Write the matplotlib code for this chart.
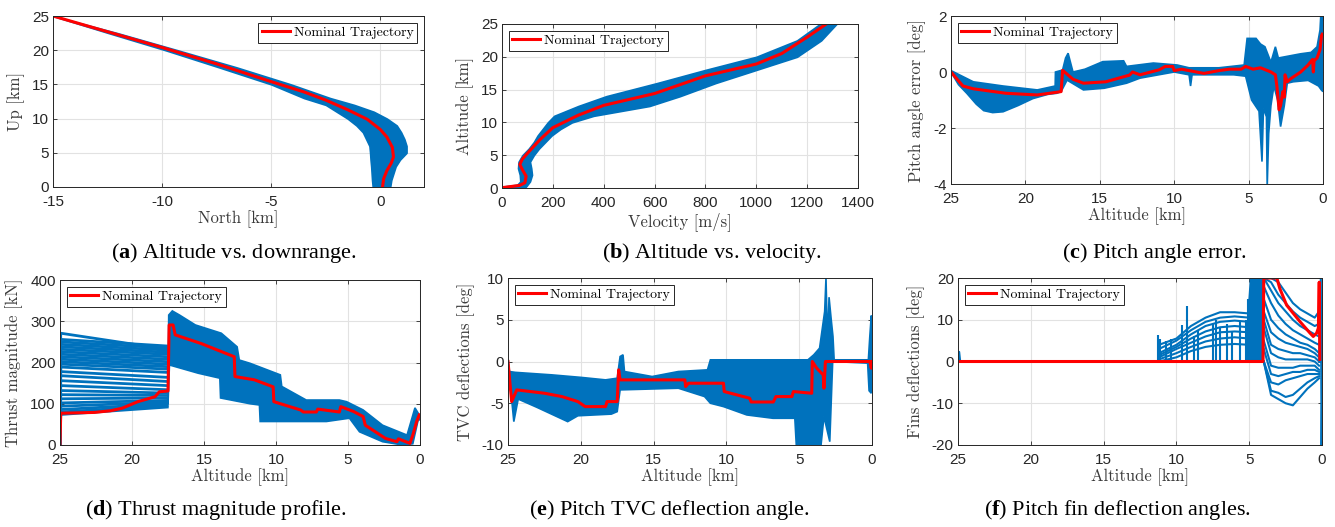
"""Monte Carlo landing dispersion panels (a)-(f), redrawn from the figure."""

import matplotlib
matplotlib.use("Agg")
import matplotlib.pyplot as plt
import numpy as np

W, H = 1335, 527
BLUE = "#0072BD"
RED = "#FF0000"
INK = "#262626"

# (a) altitude vs downrange
a_nom_north = [-15.0, -12.5, -10.0, -7.5, -5.0, -3.5, -2.5, -1.5, -0.6, 0.0, 0.3, 0.55, 0.6, 0.5, 0.3, 0.15, 0.1]
a_nom_up = [25.0, 22.7, 20.4, 18.0, 15.4, 13.9, 12.7, 11.3, 9.9, 8.4, 7.3, 5.8, 4.4, 3.5, 2.4, 1.2, 0.0]
a_band_up = [25, 22.5, 20, 17.5, 15, 13, 12, 11, 10, 9, 8, 7, 6, 5, 4, 3, 2, 1, 0]
a_band_left = [-15, -12.45, -9.85, -7.4, -5.0, -3.5, -2.5, -2.0, -1.5, -1.1, -0.8, -0.65, -0.5, -0.47, -0.45,
               -0.42, -0.4, -0.38, -0.35]
a_band_right = [-15, -12.05, -9.3, -6.6, -4.1, -2.3, -1.2, -0.3, 0.3, 0.75, 0.95, 1.1, 1.2, 1.2, 0.9, 0.7, 0.6,
                0.5, 0.45]

# (b) altitude vs velocity
b_nom_vel = [10, 70, 90, 95, 80, 70, 80, 100, 150, 200, 300, 400, 600, 800, 1000, 1100, 1200, 1275]
b_nom_alt = [0.1, 0.4, 0.8, 1.8, 2.8, 3.6, 4.4, 5.3, 7.4, 9.2, 11.1, 12.6, 14.4, 17.1, 18.9, 20.5, 23.0, 25.0]
b_band_alt = [25, 22.5, 20, 18, 16, 14, 12.5, 11, 10, 9, 8, 7, 6, 5, 4, 3, 2, 1, 0.5, 0.25, 0.05]
b_band_left = [1250, 1160, 1000, 800, 610, 410, 300, 205, 180, 160, 140, 125, 105, 80, 65, 63, 70, 72, 60, 10, 10]
b_band_right = [1315, 1255, 1160, 1000, 840, 700, 580, 360, 275, 230, 195, 170, 145, 125, 110, 115, 118, 110,
                100, 95, 90]

# (c) pitch angle error
c_nom_alt = [25.0, 24.2, 23.5, 21.3, 19.2, 17.6, 17.5, 16.8, 16.1, 14.6, 13.0, 12.8, 12.3, 11.0, 10.6, 10.1,
             10.0, 9.5, 8.0, 7.0, 6.3, 5.5, 5.2, 4.7, 4.2, 3.5, 3.2, 3.1, 2.95, 2.85, 2.7, 2.6, 2.55, 2.4, 2.2,
             1.5, 1.0, 0.7, 0.65, 0.6, 0.4, 0.2, 0.1, 0.05]
c_nom_err = [0.0, -0.5, -0.6, -0.76, -0.82, -0.7, 0.06, -0.26, -0.4, -0.35, -0.11, 0.0, -0.1, 0.08, 0.2, 0.2,
             0.05, 0.1, -0.05, 0.05, 0.1, 0.1, 0.2, 0.1, 0.15, 0.0, -0.1, -0.5, -1.35, -1.2, -0.7, -0.9, -0.1,
             -0.35, -0.25, 0.0, 0.25, 0.45, 0.0, 0.4, 0.5, 0.8, 1.3, 1.35]
c_hi_alt = [25.0, 23.5, 21.5, 19.2, 18.0, 17.98, 17.5, 17.3, 17.13, 16.9, 16.8, 16.0, 14.8, 13.4, 13.2, 11.4,
            9.8, 9.0, 7.0, 5.3, 5.1, 4.5, 4.2, 3.9, 3.5, 3.2, 3.0, 2.5, 1.5, 0.8, 0.4, 0.2, 0.15, 0.05, 0.0]
c_hi_err = [0.05, -0.35, -0.5, -0.64, -0.5, 0.0, 0.07, 0.5, 0.67, 0.2, 0.0, 0.1, 0.37, 0.4, 0.2, 0.32, 0.25,
            0.15, 0.15, 0.25, 1.2, 1.2, 1.0, 0.9, 0.35, 0.9, 0.5, 0.55, 0.65, 0.7, 0.9, 1.5, 2.0, 2.0, 1.5]
c_lo_alt = [25.0, 24.5, 23.94, 23.3, 22.8, 22.2, 21.5, 20.5, 19.5, 18.5, 17.9, 17.6, 17.2, 16.1, 14.7, 13.2,
            12.3, 10.0, 9.0, 8.9, 8.8, 6.0, 5.2, 4.8, 4.3, 4.1, 4.0, 3.8, 3.75, 3.65, 3.5, 3.3, 3.05, 2.85, 2.6,
            2.4, 2.0, 1.0, 0.3, 0.1, 0.0]
c_lo_err = [0.0, -0.45, -0.76, -1.15, -1.38, -1.45, -1.42, -1.2, -0.95, -0.8, -0.76, -0.7, -0.29, -0.64, -0.58,
            -0.4, -0.22, 0.0, -0.1, -0.5, -0.1, -0.1, -0.15, -1.0, -1.4, -3.2, -1.3, -1.6, -4.1, -2.2, -1.2,
            -0.5, -1.0, -1.95, -1.2, -0.4, -0.35, -0.3, -0.5, -0.65, -0.7]

# (d) thrust magnitude
d_nom_alt = [25.0, 24.95, 22.6, 21.5, 20.7, 19.6, 18.4, 18.1, 17.5, 17.42, 17.15, 17.0, 15.2, 12.9, 12.85, 11.5,
             10.2, 10.15, 8.3, 8.1, 7.2, 7.1, 5.6, 5.5, 4.6, 3.95, 3.8, 3.1, 2.4, 1.6, 1.5, 0.7, 0.5, 0.23, 0.05]
d_nom_kn = [0, 77, 79, 83, 89, 105, 117, 129, 131, 291, 291, 267, 246, 214, 166, 158, 141, 105, 85, 80, 80, 87,
            80, 93, 81, 69, 48, 32, 16, 8, 15, 4, 24, 57, 73]
d_run_start = [271, 256, 250, 244, 238, 232, 226, 220, 214, 208, 202, 196, 189, 178, 168, 156, 144, 132, 122,
               112, 102, 94, 86, 80, 74]
d_run_end = [232, 240, 235, 230, 225, 220, 214, 208, 202, 196, 190, 184, 176, 164, 154, 144, 134, 126, 120, 114,
             108, 104, 100, 96, 92]
d_run_alt = [25.0, 24.95, 17.55]
d_hi_alt = [17.5, 17.45, 17.2, 16.7, 15.6, 13.8, 12.7, 12.55, 11.8, 9.7, 9.6, 7.9, 5.6, 5.1, 3.95, 2.6, 0.9,
            0.35, 0.0]
d_hi_kn = [100, 315, 325, 315, 291, 271, 238, 206, 198, 170, 142, 109, 109, 105, 85, 48, 24, 90, 70]
d_lo_alt = [17.5, 17.4, 15.4, 13.9, 13.85, 11.8, 11.15, 11.1, 8.3, 6.5, 4.9, 4.2, 2.6, 1.2, 0.5, 0.1, 0.0]
d_lo_kn = [100, 194, 174, 162, 114, 100, 97, 57, 57, 57, 65, 32, 8, 0, 3, 65, 60]

# (e) pitch TVC deflection
e_nom_alt = [25, 24.75, 24.4, 22.5, 21.3, 20.2, 19.7, 18.3, 18.2, 17.5, 17.4, 17.3, 12.85, 12.8, 12.6, 10.2,
             10.15, 8.4, 8.3, 6.78, 6.6, 5.5, 5.4, 4.14, 4.1, 3.8, 3.35, 3.3, 3.2, 0.14, 0.05, 0.0]
e_nom_deg = [0, -4.8, -3.4, -3.8, -4.2, -4.8, -5.4, -5.4, -4.8, -4.8, -1.0, -2.2, -2.2, -3.0, -2.6, -2.6, -3.6,
             -4.4, -4.85, -4.85, -4.2, -4.2, -3.6, -3.8, 0.0, -0.8, -1.6, -3.2, 0.0, 0.0, -0.8, 0.0]
e_hi_alt = [25, 24.9, 24.5, 22, 20, 18.3, 17.5, 17.3, 17.1, 17.0, 15.1, 13.3, 11.3, 11.1, 4.4, 4.0, 3.6, 3.25,
            3.16, 3.05, 2.95, 2.8, 2.68, 2.6, 0.25, 0.15, 0.05, 0.0]
e_hi_deg = [0.3, -1.2, -1.3, -1.6, -1.9, -2.2, -2.0, 0.6, 0.8, -1.2, -1.8, -1.2, -1.0, 0.2, 0.2, 0.8, 1.6, 6.0,
            10.0, 2.0, 7.7, 5.0, 3.0, 0.2, 0.2, 3.0, 5.5, 4.5]
e_lo_alt = [25, 24.6, 24.3, 23, 20.9, 20.2, 17.9, 17.5, 17.3, 13.3, 11.5, 11.1, 10.2, 8.6, 6.8, 5.3, 5.2, 3.5,
            3.3, 2.9, 2.7, 0.3, 0.2, 0.05, 0.0]
e_lo_deg = [0, -7.2, -4.5, -5.5, -7.2, -6.5, -6.3, -6.0, -3.4, -3.2, -4.2, -5.0, -5.4, -6.4, -6.8, -6.8, -10.0,
            -10.0, -6.6, -9.6, 0.0, -0.2, -3.5, -3.8, -1.0]

# (f) pitch fin deflection
f_nom_alt = [25, 4.05, 4.0, 3.1, 2.9, 2.43, 1.5, 0.82, 0.6, 0.37, 0.25, 0.19, 0.15]
f_nom_deg = [0, 0, 20, 20, 17.5, 13.5, 9.5, 6.8, 6.0, 6.8, 8.0, 19.0, 0.5]
f_blip_alt = [25.0, 24.92, 24.85, 24.8]
f_blip_deg = [0, 2.3, 0, 0]
f_arc_alt = [11.2, 10, 9, 8, 7, 6, 5.0]
f_arcs = [[4, 5.5, 8.5, 10.5, 11.8, 11.8, 11.5],
          [3, 5, 7.5, 9.5, 10.5, 10.8, 10.5],
          [2, 4, 6.5, 8.5, 9.5, 9.8, 9.5],
          [1.5, 3.5, 5.5, 7.2, 8.2, 8.5, 8.2],
          [1, 3, 4.5, 6, 7, 7.2, 7.0],
          [0.5, 2, 3.5, 4.8, 5.5, 5.8, 5.5],
          [0, 1, 2.5, 3.5, 4.0, 4.2, 4.0]]
f_spike_alt = [11.25, 11.1, 10.7, 10.4, 9.6, 9.3, 8.8, 8.5, 7.5, 7.3, 7.0, 6.5, 6.2, 5.6, 5.2, 5.08]
f_spike_top = [6.4, 5.5, 5.0, 5.5, 8.8, 13.2, 6.0, 7.5, 9.0, 10.0, 8.0, 9.0, 7.0, 9.5, 10.0, 15.0]
f_col_alt = [5.05, 5.0, 4.9, 4.05, 4.05]
f_col_deg = [0, 15, 20, 20, 0]
f_curve_alt = [4.0, 3.5, 3.0, 2.5, 2.0, 1.5, 1.0, 0.5, 0.2]
f_curves = [[20, 20, 19, 16.5, 14, 12.5, 11.5, 10.5, 12],
            [20, 19, 16, 14, 12, 10.5, 9.5, 8.5, 9],
            [20, 17, 14, 12, 10, 8.5, 7.5, 6.5, 6],
            [18, 14, 11, 9, 7.5, 6.5, 5.5, 4.5, 4],
            [15, 10, 8, 6.5, 5.5, 4.5, 4, 3, 2],
            [12, 7, 5.5, 4.5, 4, 3.5, 3, 2, 1],
            [10, 4, 3, 2.5, 2, 2, 1.5, 1, 0],
            [8, 2, 1, 0.5, 0.5, 0.5, 0.5, 0, -1],
            [5, -1, -1.5, -1.5, -1.5, -1, -1, -1, -2],
            [3, -3, -3.5, -3, -2.5, -2.5, -2, -2, -2.5],
            [0, -5, -5.5, -4.5, -4, -3.5, -3, -3, -3],
            [0, -7, -7.5, -8.5, -8, -6.5, -5, -4, -3.5],
            [0, -8, -9, -10, -10.5, -8.5, -6.5, -5, -4]]
f_edge_alt = [0.2, 0.08, 0.05, 0.03, 0.0]
f_edge_deg = [0, 20, -5, -20, -10]

captions = [("a", "Altitude vs. downrange.", 234, 253),
            ("b", "Altitude vs. velocity.", 712, 253),
            ("c", "Pitch angle error.", 1154, 253),
            ("d", "Thrust magnitude profile.", 216, 510),
            ("e", "Pitch TVC deflection angle.", 669, 510),
            ("f", "Pitch fin deflection angles.", 1117, 510)]


def rect(l, t, r, b):
    return [l / W, 1 - b / H, (r - l) / W, (b - t) / H]


def band(ax, hi_x, hi_y, lo_x, lo_y):
    ax.fill(np.r_[hi_x, lo_x[::-1]], np.r_[hi_y, lo_y[::-1]], color=BLUE, lw=1.2)


def style(ax, xlim, ylim, xticks, yticks, xlabel, ylabel, loc):
    ax.set_xlim(*xlim)
    ax.set_ylim(*ylim)
    ax.set_xticks(xticks)
    ax.set_yticks(yticks)
    ax.grid(True, color="#e2e2e2", lw=0.8)
    ax.set_axisbelow(True)
    ax.tick_params(direction="in", length=3, width=0.6, top=True, right=True, colors=INK,
                   labelsize=11, pad=3)
    ax.tick_params(axis="x", pad=6)
    for s in ax.spines.values():
        s.set_color(INK)
        s.set_linewidth(0.7)
    ax.set_xlabel(xlabel, fontfamily="cmr10", fontsize=12, color="#3a3a3a", labelpad=1)
    ax.set_ylabel(ylabel, fontfamily="cmr10", fontsize=12, color="#3a3a3a", labelpad=5)
    leg = ax.legend(loc=loc, prop={"family": "cmr10", "size": 10}, fancybox=False, framealpha=1,
                    edgecolor=INK, borderpad=0.25, handlelength=2.0, handletextpad=0.3,
                    borderaxespad=0.5)
    leg.get_frame().set_linewidth(0.7)


def main():
    plt.rcParams.update({"font.family": "Liberation Sans", "axes.unicode_minus": False,
                         "mathtext.fontset": "custom", "mathtext.rm": "Liberation Serif",
                         "mathtext.bf": "Liberation Serif:bold"})
    fig = plt.figure(figsize=(W / 100, H / 100), dpi=100)
    alt_ticks = [25, 20, 15, 10, 5, 0]

    ax = fig.add_axes(rect(53, 16, 424, 187))
    ax.fill_betweenx(a_band_up, a_band_left, a_band_right, color=BLUE, lw=1.2)
    ax.plot(a_nom_north, a_nom_up, color=RED, lw=2.2, label="Nominal Trajectory")
    style(ax, (-15, 2), (0, 25), [-15, -10, -5, 0], range(0, 26, 5), "North [km]", "Up [km]", "upper right")

    ax = fig.add_axes(rect(502, 24, 858, 188))
    ax.fill_betweenx(b_band_alt, b_band_left, b_band_right, color=BLUE, lw=1.2)
    ax.plot(b_nom_vel, b_nom_alt, color=RED, lw=2.2, label="Nominal Trajectory")
    style(ax, (0, 1400), (0, 25), range(0, 1401, 200), range(0, 26, 5), "Velocity [m/s]", "Altitude [km]",
          "upper left")

    ax = fig.add_axes(rect(951, 16, 1323, 184))
    band(ax, c_hi_alt, c_hi_err, c_lo_alt, c_lo_err)
    ax.plot(c_nom_alt, c_nom_err, color=RED, lw=2.2, label="Nominal Trajectory")
    style(ax, (25, 0), (-4, 2), alt_ticks, [-4, -2, 0, 2], "Altitude [km]", "Pitch angle error [deg]",
          "upper left")

    ax = fig.add_axes(rect(60, 280, 420, 445))
    for s, e in zip(d_run_start, d_run_end):
        ax.plot(d_run_alt, [0, s, e], color=BLUE, lw=2.0)
    band(ax, d_hi_alt, d_hi_kn, d_lo_alt, d_lo_kn)
    ax.plot(d_nom_alt, d_nom_kn, color=RED, lw=2.2, label="Nominal Trajectory")
    style(ax, (25, 0), (0, 400), alt_ticks, range(0, 401, 100), "Altitude [km]", "Thrust magnitude [kN]",
          "upper left")

    ax = fig.add_axes(rect(508, 278, 872, 445))
    band(ax, e_hi_alt, e_hi_deg, e_lo_alt, e_lo_deg)
    ax.plot(e_nom_alt, e_nom_deg, color=RED, lw=2.2, label="Nominal Trajectory")
    style(ax, (25, 0), (-10, 10), alt_ticks, [-10, -5, 0, 5, 10], "Altitude [km]", "TVC deflections [deg]",
          "upper left")

    ax = fig.add_axes(rect(958, 278, 1322, 445))
    ax.plot(f_blip_alt, f_blip_deg, color=BLUE, lw=1.5)
    for arc in f_arcs:
        ax.plot(f_arc_alt, arc, color=BLUE, lw=1.5)
    ax.vlines(f_spike_alt, 0, f_spike_top, color=BLUE, lw=1.5)
    ax.fill(f_col_alt, f_col_deg, color=BLUE, lw=1.2)
    for curve in f_curves:
        ax.plot(f_curve_alt, curve, color=BLUE, lw=1.5)
    ax.plot(f_edge_alt, f_edge_deg, color=BLUE, lw=1.5)
    ax.plot(f_nom_alt, f_nom_deg, color=RED, lw=2.2, label="Nominal Trajectory")
    style(ax, (25, 0), (-20, 20), alt_ticks, [-20, -10, 0, 10, 20], "Altitude [km]", "Fins deflections [deg]",
          "upper left")

    for tag, text, x, y in captions:
        fig.text(x / W, 1 - y / H, rf"($\mathbf{{{tag}}}$) {text}", ha="center", va="center",
                 fontsize=16, family="Liberation Serif", color="black")

    fig.savefig("out.png", dpi=100)
    plt.close(fig)


if __name__ == "__main__":
    main()
